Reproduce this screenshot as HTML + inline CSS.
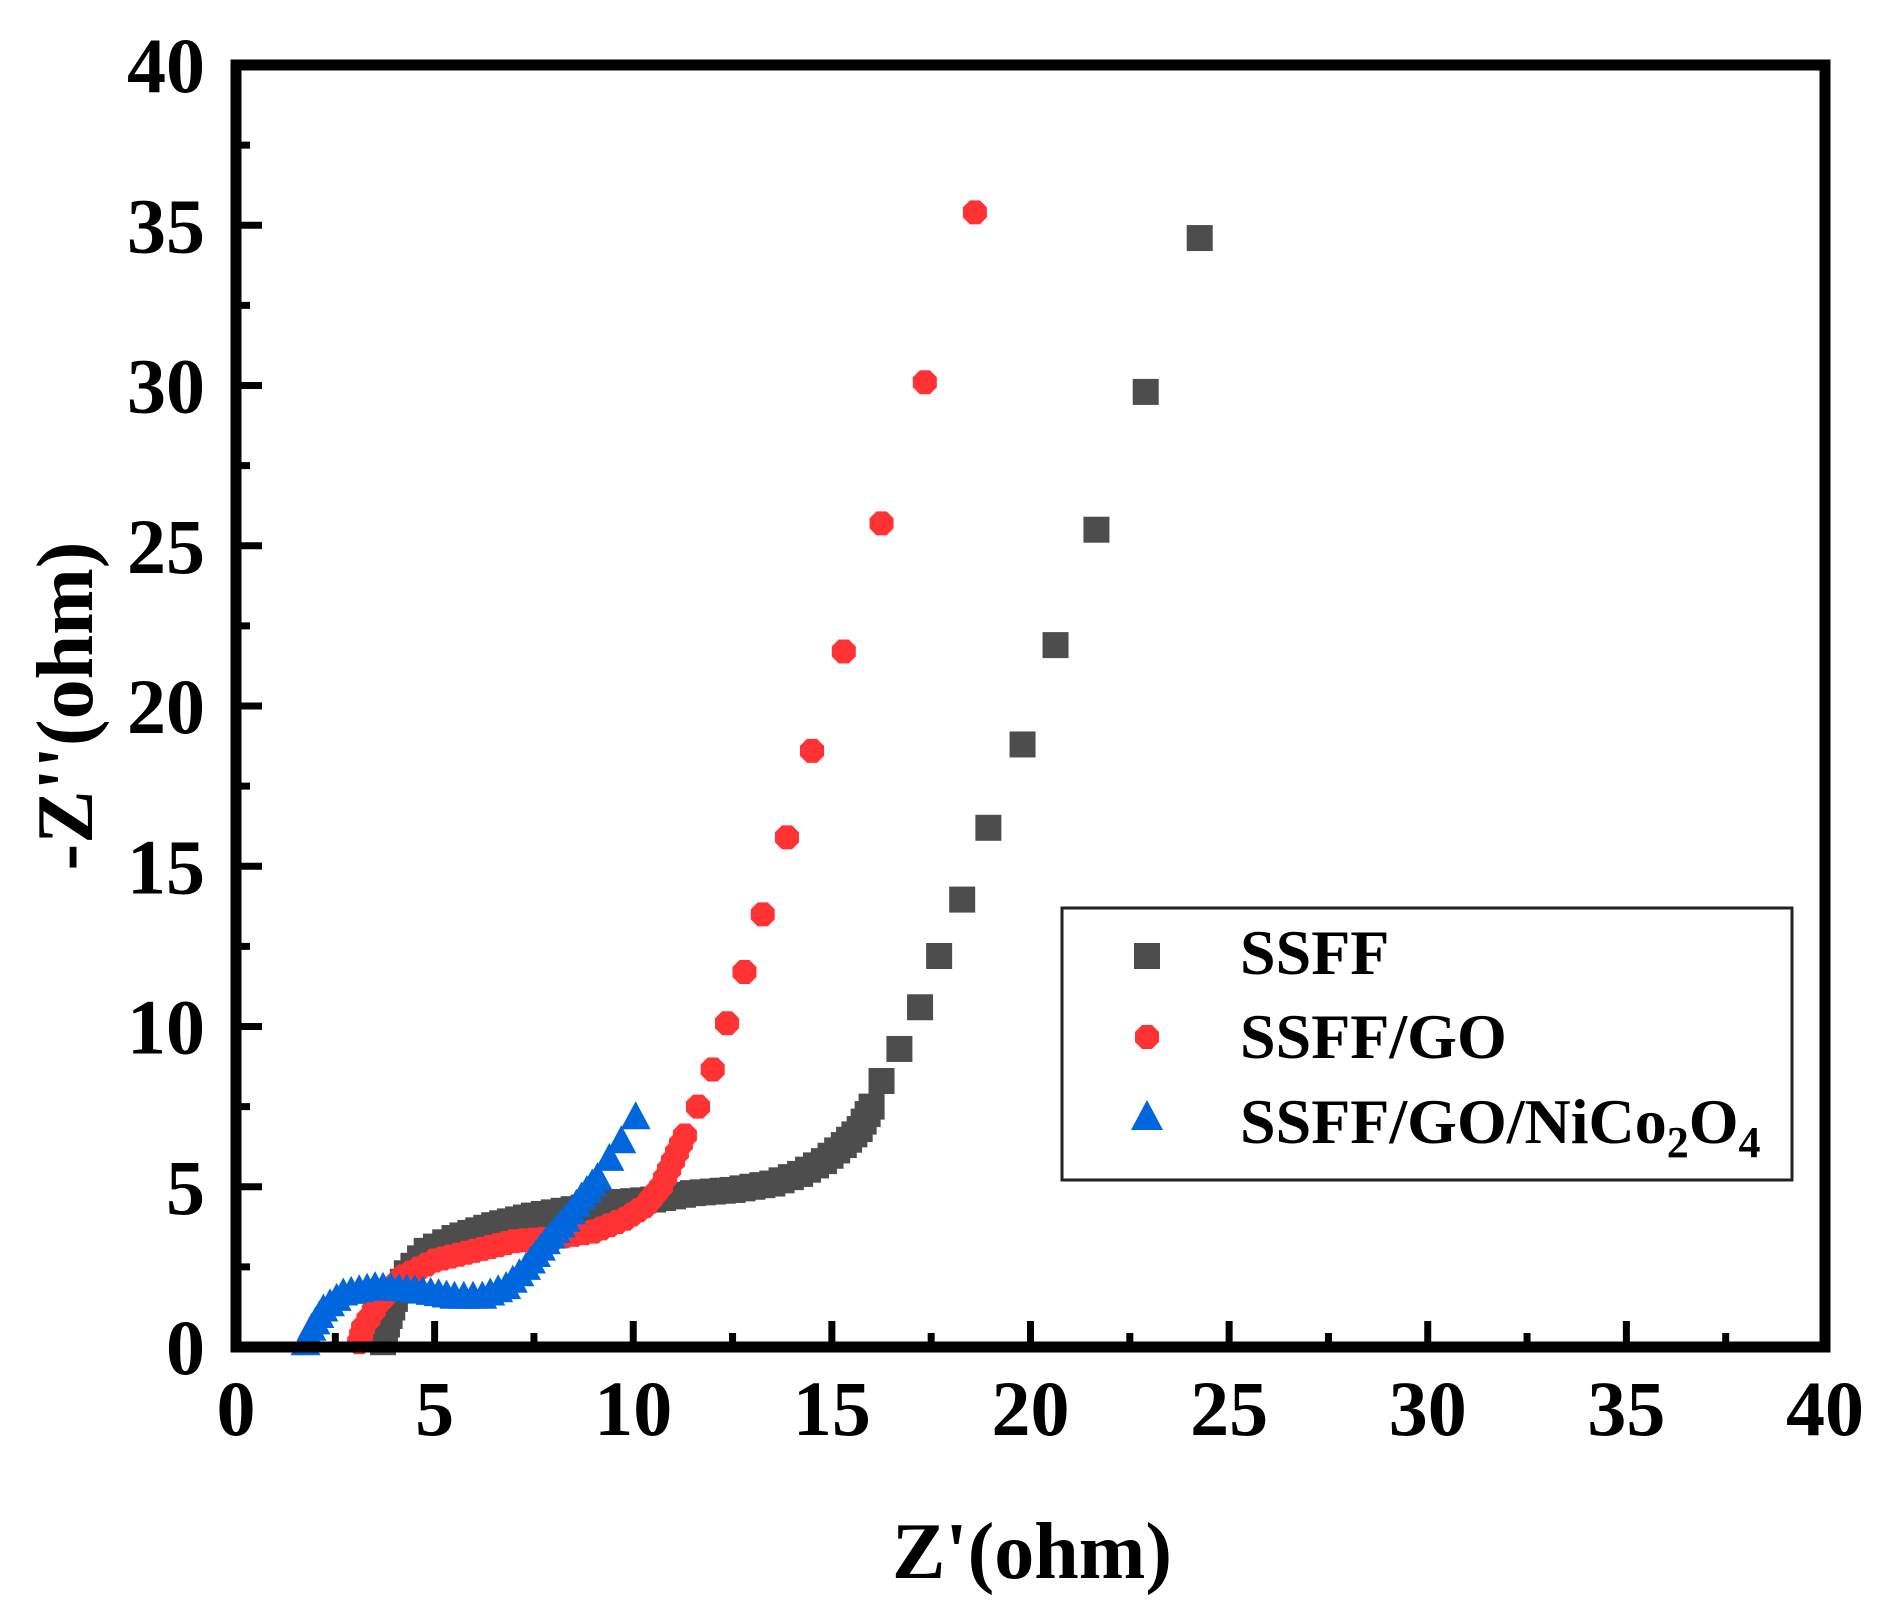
<!DOCTYPE html>
<html><head><meta charset="utf-8"><style>
html,body{margin:0;padding:0;background:#fff;}
svg{display:block;}
text{font-family:"Liberation Serif",serif;font-weight:bold;fill:#000;}
</style></head><body>
<svg id="s" width="1887" height="1618" viewBox="0 0 1887 1618" xmlns="http://www.w3.org/2000/svg">
<g id="data"></g>
<g id="axes"></g>
<rect x="1062" y="908" width="730" height="272" fill="#fff" stroke="#222" stroke-width="3"/>
<rect x="1134" y="943" width="26" height="26" fill="#4d4d4d"/>
<polygon points="1142,1025 1152,1025 1159,1032 1159,1042 1152,1049 1142,1049 1135,1042 1135,1032" fill="#ff3333"/>
<polygon points="1147,1100 1163,1130 1131,1130" fill="#0066dd"/>
<text x="1240" y="974" font-size="64">SSFF</text>
<text x="1240" y="1058" font-size="64">SSFF/GO</text>
<text x="1240" y="1143" font-size="64">SSFF/GO/NiCo<tspan font-size="44" dy="14">2</tspan><tspan dy="-14">O</tspan><tspan font-size="44" dy="14">4</tspan></text>
<text x="1032" y="1578" font-size="80" text-anchor="middle">Z'(ohm)</text>
<text transform="translate(92,706) rotate(-90)" font-size="80" text-anchor="middle">-Z''(ohm)</text>
</svg>
<script>
var NS="http://www.w3.org/2000/svg";
var X0=236,X1=1825,Y0=1347,Y1=65;
function px(x){return X0+(X1-X0)*x/40;}
function py(y){return Y0-(Y0-Y1)*y/40;}
var ax=document.getElementById('axes'),dg=document.getElementById('data');
function el(t,a,p){var e=document.createElementNS(NS,t);for(var k in a)e.setAttribute(k,a[k]);(p||ax).appendChild(e);return e;}
el('rect',{x:X0,y:Y1,width:X1-X0,height:Y0-Y1,fill:'none',stroke:'#000','stroke-width':11});
for(var i=0;i<=16;i++){var v=i*2.5,maj=i%2==0,L=maj?26:14;
 if(i>0&&i<16){
 el('line',{x1:px(v),y1:Y0,x2:px(v),y2:Y0-L,stroke:'#000','stroke-width':7});
 el('line',{x1:X0,y1:py(v),x2:X0+L,y2:py(v),stroke:'#000','stroke-width':7});}
 if(maj){var t=el('text',{x:px(v),y:1435,'font-size':78,'text-anchor':'middle'});t.textContent=v;
 var t2=el('text',{x:205,y:py(v)+27,'font-size':78,'text-anchor':'end'});t2.textContent=v;}
}
function dense(pts,step){var out=[];for(var i=0;i<pts.length-1;i++){var a=pts[i],b=pts[i+1];
 var ax1=px(a[0]),ay1=py(a[1]),bx=px(b[0]),by=py(b[1]);var d=Math.hypot(bx-ax1,by-ay1);var n=Math.max(1,Math.round(d/step));
 for(var j=0;j<n;j++)out.push([ax1+(bx-ax1)*j/n,ay1+(by-ay1)*j/n]);}
 var l=pts[pts.length-1];out.push([px(l[0]),py(l[1])]);return out;}
function sparse(pts){return pts.map(function(p){return [px(p[0]),py(p[1])];});}
var s1=sparse([[24.26,34.6],[22.9,29.8],[21.66,25.5],[20.63,21.9],[19.8,18.8],[18.94,16.2],[18.28,13.96],[17.7,12.2],[17.22,10.6],[16.7,9.3],[16.25,8.3]]).concat(
 dense([[16.0,7.5],[15.7,6.8],[15.3,6.3],[14.8,5.8],[14.2,5.4],[13.5,5.1],[12.5,4.9],[11.5,4.8],[10.5,4.6],[9.5,4.5],[8.5,4.3],[7.5,4.1],[6.5,3.8],[5.5,3.4],[4.8,3.0],[4.3,2.3],[4.0,1.5],[3.8,0.7],[3.7,0.15]],9));
var s2=sparse([[18.6,35.4],[17.34,30.1],[16.25,25.7],[15.3,21.7],[14.5,18.6],[13.87,15.9],[13.26,13.5],[12.8,11.7],[12.36,10.1],[12.0,8.66],[11.63,7.5]]).concat(
 dense([[11.3,6.6],[11.0,5.8],[10.7,5.0],[10.3,4.4],[9.8,4.0],[9.0,3.6],[8.0,3.4],[7.0,3.3],[6.0,3.0],[5.0,2.7],[4.2,2.2],[3.6,1.4],[3.2,0.6],[3.1,0.15]],9));
var s3=sparse([[10.06,7.2],[9.7,6.45],[9.4,5.9]]).concat(
 dense([[9.1,5.3],[8.7,4.7],[8.3,4.0],[7.8,3.3],[7.3,2.5],[6.8,1.9],[6.2,1.6],[5.5,1.6],[4.5,1.8],[3.5,1.9],[2.7,1.7],[2.2,1.2],[1.9,0.6],[1.75,0.15]],8));
s1.forEach(function(p){el('rect',{x:p[0]-13,y:p[1]-13,width:26,height:26,fill:'#4d4d4d'},dg);});
s2.forEach(function(p){var x=p[0],y=p[1];el('polygon',{points:[x-5,y-12,x+5,y-12,x+12,y-5,x+12,y+5,x+5,y+12,x-5,y+12,x-12,y+5,x-12,y-5].join(' '),fill:'#ff3333'},dg);});
s3.forEach(function(p){var x=p[0],y=p[1];el('polygon',{points:[x,y-15,x+15,y+13,x-15,y+13].join(' '),fill:'#0066dd'},dg);});
</script>
</body></html>
